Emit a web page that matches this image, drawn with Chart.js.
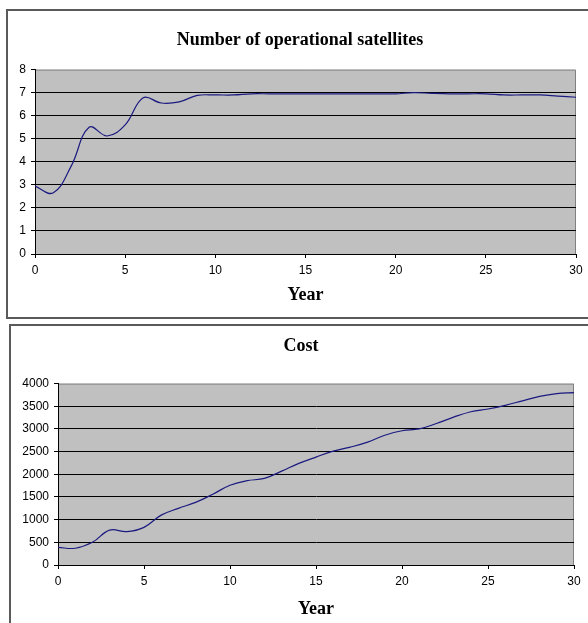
<!DOCTYPE html>
<html>
<head>
<meta charset="utf-8">
<script src="https://cdn.jsdelivr.net/npm/chart.js@4.4.1/dist/chart.umd.min.js"></script>
<style>
  html, body { margin: 0; padding: 0; background: #fff; overflow: hidden; }
  body { width: 588px; height: 623px; position: relative; }
  .frame { position: absolute; border: 2px solid #5a5a5a; background: #fff; }
  #frame1 { left: 6px; top: 9px; width: 620px; height: 306px; }
  #frame2 { left: 9px; top: 324px; width: 620px; height: 400px; }
  canvas { position: absolute; left: 0; }
  #satChart { top: 0; }
  #costChart { top: 320px; }
</style>
</head>
<body>
<div class="frame" id="frame1"></div>
<div class="frame" id="frame2"></div>
<canvas id="satChart" width="588" height="320"></canvas>
<canvas id="costChart" width="588" height="303"></canvas>

<script>
const years = [0, 1, 2, 3, 4, 5, 6, 7, 8, 9, 10, 11, 12, 13, 14, 15, 16, 17, 18, 19, 20, 21, 22, 23, 24, 25, 26, 27, 28, 29, 30];

const satellites = [2.95, 2.65, 3.8, 5.5, 5.12, 5.6, 6.78, 6.55, 6.6, 6.88, 6.9, 6.9, 6.95, 6.95, 6.95, 6.95, 6.95, 6.95, 6.95, 6.95, 6.95, 7.0, 6.97, 6.95, 6.95, 6.95, 6.9, 6.9, 6.9, 6.85, 6.8];

const cost = [390, 370, 500, 770, 735, 830, 1100, 1250, 1380, 1560, 1760, 1860, 1910, 2070, 2240, 2380, 2510, 2600, 2710, 2860, 2960, 3000, 3120, 3260, 3380, 3440, 3520, 3620, 3720, 3780, 3800];

const xTicks = [0, 5, 10, 15, 20, 25, 30];

const tickFont = { family: "'Liberation Sans', Arial, sans-serif", size: 12 };
const titleFont = { family: "'Liberation Serif', 'Times New Roman', serif", size: 18, weight: "bold" };
const axisTitleFont = { family: "'Liberation Serif', 'Times New Roman', serif", size: 18, weight: "bold" };

// grey plot background and grey top/right border, like the old Excel charts
const plotBackground = {
  id: "plotBackground",
  beforeDraw(chart) {
    const { ctx, chartArea: a } = chart;
    ctx.save();
    ctx.fillStyle = "#c0c0c0";
    ctx.fillRect(a.left, a.top, a.right - a.left, a.bottom - a.top);
    ctx.strokeStyle = "#808080";
    ctx.lineWidth = 1;
    ctx.beginPath();
    ctx.moveTo(a.left, a.top + 0.5);
    ctx.lineTo(a.right - 0.5, a.top + 0.5);
    ctx.lineTo(a.right - 0.5, a.bottom);
    ctx.stroke();
    ctx.restore();
  },
};

// the original centres the title on the whole frame, not on the plot
const titleShift = {
  id: "titleShift",
  afterLayout(chart, args, opts) {
    if (chart.titleBlock) chart.titleBlock.left = opts.left;
  },
};

function makeChart(id, title, values, yMax, yStep, opts) {
  const ctx = document.getElementById(id).getContext("2d");
  return new Chart(ctx, {
    type: "line",
    data: {
      datasets: [
        {
          data: years.map((y, i) => ({ x: y, y: values[i] })),
          borderColor: "#1a1a80",
          borderWidth: 1.2,
          pointRadius: 0,
          tension: 0.4,
          fill: false,
        },
      ],
    },
    options: {
      responsive: false,
      animation: false,
      layout: { padding: { left: 0, right: opts.right, top: 0, bottom: 0 } },
      plugins: {
        legend: { display: false },
        tooltip: { enabled: false },
        titleShift: { left: opts.titleLeft },
        title: {
          display: true,
          text: title,
          color: "#000",
          font: titleFont,
          padding: { top: opts.titleTop, bottom: opts.titleBottom },
        },
      },
      scales: {
        x: {
          type: "linear",
          min: 0,
          max: 30,
          afterBuildTicks(scale) {
            scale.ticks = xTicks.map((v) => ({ value: v }));
          },
          afterFit(scale) {
            scale.height = opts.xHeight;
          },
          grid: {
            drawOnChartArea: false,
            drawTicks: true,
            tickLength: 4,
            tickColor: "#000",
          },
          border: { display: true, color: "#000", width: 1 },
          ticks: { color: "#000", font: tickFont, padding: 5, maxRotation: 0 },
          title: {
            display: true,
            text: "Year",
            color: "#000",
            font: axisTitleFont,
            padding: { top: 0, bottom: opts.yearBottom },
          },
        },
        y: {
          min: 0,
          max: yMax,
          afterFit(scale) {
            scale.width = opts.yWidth;
          },
          grid: {
            color: (c) => (c.tick && c.tick.value === yMax ? "rgba(0,0,0,0)" : "#000"),
            lineWidth: 1,
            tickLength: 4,
            tickColor: "#000",
          },
          border: { display: true, color: "#000", width: 1 },
          ticks: {
            stepSize: yStep,
            color: "#000",
            font: tickFont,
            padding: 5,
            callback: (v) => String(v),
          },
        },
      },
    },
    plugins: [plotBackground, titleShift],
  });
}

makeChart("satChart", "Number of operational satellites", satellites, 8, 1, {
  right: 12,
  titleLeft: 24,
  titleTop: 30,
  titleBottom: 18,
  xHeight: 66,
  yearBottom: 14,
  yWidth: 35,
});

makeChart("costChart", "Cost", cost, 4000, 500, {
  right: 14,
  titleLeft: 28,
  titleTop: 16,
  titleBottom: 26,
  xHeight: 58,
  yearBottom: 3,
  yWidth: 58,
});
</script>
</body>
</html>
